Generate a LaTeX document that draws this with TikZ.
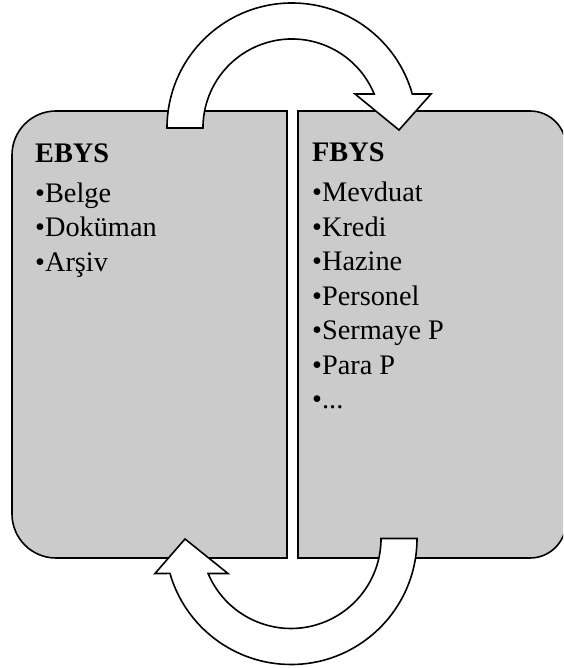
\documentclass[tikz,border=0pt]{standalone}
\usepackage{fontspec}
\setmainfont{Liberation Serif}
\definecolor{boxgray}{HTML}{CBCBCB}
\begin{document}
\begin{tikzpicture}[x=1pt,y=1pt,
  panel/.style={fill=boxgray,draw=black,line width=1.6pt},
  bentarrow/.style={fill=white,draw=black,line width=1.6pt,line join=miter},
  txt/.style={anchor=base west,inner sep=0pt,font=\fontsize{28.3}{33}\selectfont}]
\path[use as bounding box] (0,0) rectangle (563,668);
\clip (0,0) rectangle (563,668);
% boxes
\draw[panel] (287,110) -- (56,110) arc[start angle=270,end angle=180,radius=44pt]
  -- (12,513) arc[start angle=180,end angle=90,radius=44pt] -- (287,557) -- cycle;
\draw[panel] (298,110) -- (530,110) arc[start angle=-90,end angle=0,radius=36pt]
  -- (566,521) arc[start angle=0,end angle=90,radius=36pt] -- (298,557) -- cycle;
% top arrow
\draw[bentarrow] (167,540) arc[start angle=180,end angle=15.8,radius=125pt]
  -- (431,574) -- (399,538) -- (355,574) -- (374.2,574)
  arc[start angle=22.46,end angle=180,radius=89pt] -- cycle;
% bottom arrow
\draw[bentarrow] (417,129.5) arc[start angle=0,end angle=-163.9,radius=126pt]
  -- (155,94.5) -- (185,129) -- (228,94.5) -- (208.1,94.5)
  arc[start angle=-157.1,end angle=0,radius=90pt] -- cycle;
% texts
\node[txt,font=\fontsize{28.3}{33}\selectfont\bfseries] (ebys) at (35,505.7) {EBYS};
\node[txt] (belge) at (35,465.3) {•Belge};
\node[txt] (dokuman) at (35,431.3) {•Doküman};
\node[txt] (arsiv) at (35,396.3) {•Arşiv};
\node[txt,font=\fontsize{28.3}{33}\selectfont\bfseries] (fbys) at (312,506) {FBYS};
\node[txt] (mevduat) at (312,466) {•Mevduat};
\node[txt] (kredi) at (312,431.5) {•Kredi};
\node[txt] (hazine) at (312,397) {•Hazine};
\node[txt] (personel) at (312,362.5) {•Personel};
\node[txt] (sermaye) at (312,328) {•Sermaye P};
\node[txt] (para) at (312,293.5) {•Para P};
\node[txt] (etc) at (312,259) {•...};
\end{tikzpicture}
\end{document}
